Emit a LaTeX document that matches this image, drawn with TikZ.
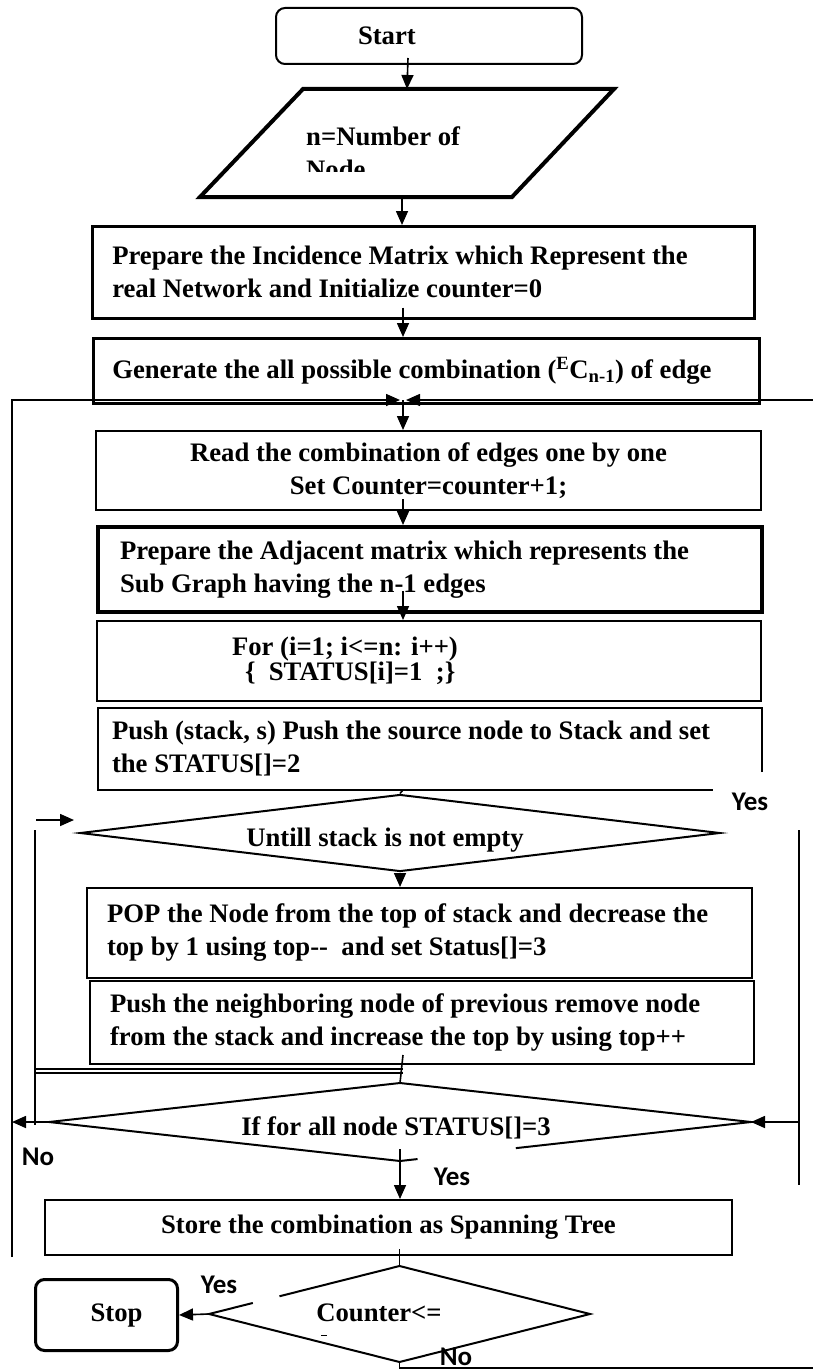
\documentclass[tikz,border=0pt]{standalone}
\usepackage{fontspec}
\setmainfont{Liberation Serif}
\newfontfamily\lblfamily{Carlito}
\usetikzlibrary{arrows.meta,shapes.geometric,calc}
\newcommand\boxfont{\fontsize{26.7}{33}\selectfont\bfseries}
\newcommand\lblfont{\lblfamily\fontsize{27}{32}\selectfont\bfseries}

\begin{document}
\begin{tikzpicture}[
  x=1pt, y=-1pt,
  blk/.style={draw, line width=2pt, anchor=north west, inner ysep=0pt, align=flush left, font=\boxfont},
  term/.style={blk, rounded corners=9pt},
  dec/.style={diamond, inner sep=0pt, line width=2pt},
  rim/.style={line width=2pt},
  txt/.style={inner sep=0pt, font=\boxfont},
  lbl/.style={inner sep=0pt, font=\lblfont},
  ln/.style={line width=1.6pt},
  arr/.style={ln, -{Triangle[length=14pt,width=12pt]}}
]
\useasboundingbox (0,0) rectangle (813,1370);
\coordinate (cx) at (403,0);

%============ TOP ============
\node[term, minimum width=306pt, minimum height=56pt, text width=142pt, inner xsep=82pt] (sta) at (275,7) {Start};
% input
\draw[line width=4pt, line join=miter] (303,89) -- (614,89) -- (512,197) -- (200,197) -- cycle;
\coordinate (inptop) at (407,89);
\coordinate (inpbot) at (402,197);
\begin{scope}
  \clip (300,100) rectangle (470,171);
  \node[txt, anchor=west, align=flush left] (inp) at (306,153) {n=Number of\\Node};
\end{scope}
\node[blk, line width=2.5pt, minimum width=662pt, minimum height=92pt, text width=622pt, inner xsep=20pt] (inc) at (91,225)
  {Prepare the Incidence Matrix which Represent the\\real Network and Initialize counter=0};
\node[blk, line width=2.5pt, minimum width=666pt, minimum height=65pt, text width=628pt, inner xsep=19pt] (gen) at (92,337)
  {Generate the all possible combination (\textsuperscript{E}C\textsubscript{n-1}) of edge};

%============ LOOP BODY ============
\node[blk, align=flush center, minimum width=665pt, minimum height=79pt, text width=625pt, inner xsep=20pt] (rd) at (95,430)
  {Read the combination of edges one by one\\Set Counter=counter+1;};
\node[blk, line width=4pt, minimum width=664pt, minimum height=85pt, text width=620pt, inner xsep=22pt] (adj) at (96,525)
  {Prepare the Adjacent matrix which represents the\\Sub Graph having the n-1 edges};
\node[blk, minimum width=664pt, minimum height=80pt, text width=394pt, inner xsep=135pt] (for) at (96,620)
  {For (i=1; i<=n: i++)\\[-8pt]\hspace*{13pt}\{ \ STATUS[i]=1 \ ;\}};
\node[blk, draw=none, minimum width=662pt, minimum height=80pt, text width=636pt, inner xsep=13pt] (psh) at (98,708)
  {Push (stack, s) Push the source node to Stack and set\\the STATUS[]=2};
\draw[rim] ([yshift=18pt]psh.south east) -- (psh.north east) -- (psh.north west) -- (psh.south west) -- ([xshift=-49pt]psh.south east);
% until
\node[dec, draw, minimum width=640pt, minimum height=77pt] (unt) at (400,833) {};
\node[txt] (untt) at (385,840) {Untill stack is not empty};
\node[blk, minimum width=665pt, minimum height=90pt, text width=625pt, inner xsep=20pt] (pop) at (86,887)
  {POP the Node from the top of stack and decrease the\\top by 1 using top-{}- \ and set Status[]=3};
\node[blk, minimum width=664pt, minimum height=83pt, text width=624pt, inner xsep=20pt] (nbr) at (89,980)
  {Push the neighboring node of previous remove node\\from the stack and increase the top by using top++};
% check
\node[dec, minimum width=700pt, minimum height=76pt] (ifd) at (400,1122) {};
\draw[rim] ($(ifd.east)!0.67!(ifd.south)$) -- (ifd.east) -- (ifd.north) -- (ifd.west) -- (ifd.south) -- ($(ifd.south)!0.05!(ifd.east)$);
\node[txt] (ifdt) at (396,1128) {If for all node STATUS[]=3};

%============ BOTTOM ============
\node[blk, align=flush center, minimum width=687pt, minimum height=55pt, text width=647pt, inner xsep=20pt] (sto) at (44,1199)
  {Store the combination as Spanning Tree};
\node[dec, minimum width=379pt, minimum height=94pt] (cnt) at (399.5,1314) {};
\draw[rim] ($(cnt.north)!0.63!(cnt.west)$) -- (cnt.north) -- (cnt.east) -- (cnt.south) -- (cnt.west) -- ($(cnt.west)!0.23!(cnt.north)$);
\node[txt] (cntt) at (379,1313) {Counter<=};
\draw[line width=1pt] (321,1335) -- (327,1335);
\node[term, line width=3pt, align=flush center, minimum width=142pt, minimum height=71pt, text width=122pt, inner xsep=10pt] (stp) at (34,1278)
  {\hspace*{20pt}Stop};

% labels
\node[lbl] (ys1) at (750,802) {Yes};
\node[lbl] (no1) at (38,1157) {No};
\node[lbl] (ys2) at (452,1177) {Yes};
\node[lbl] (ys3) at (219,1285) {Yes};
\node[lbl] (no2) at (456,1357) {No};

%============ CONNECTORS ============
\draw[arr] ([xshift=-21pt,yshift=7pt]sta.south) -- (inptop);
\draw[arr] (inpbot) -- (inc.north -| inpbot);
\draw[arr] ([yshift=12pt]inc.south -| cx) -- (gen.north -| cx);
% loop join
\coordinate (jl) at (400,400);
\coordinate (jr) at (406,400);
\coordinate (lbot) at (12,1257);
\coordinate (redge) at (813,400);
\draw[arr] (lbot) |- (jl);
\draw[arr] (redge) -- (jr);
\draw[arr] (cx |- jl) -- (rd.north -| cx);
\draw[arr] ([yshift=12pt]rd.south -| cx) -- (adj.north -| cx);
\draw[arr] ([yshift=23pt]adj.south -| cx) -- (for.north -| cx);
\draw[ln] (psh.south -| cx) -- (unt.north);
\draw[arr] (unt.south) -- (pop.north -| unt.south);
\draw[ln] ([yshift=10pt]nbr.south -| cx) -- (ifd.north);
% inner loop
\coordinate (dl) at (35,1069);
\draw[ln] (dl) -- (dl -| cx);
\draw[ln] ([yshift=-4pt]dl) -- ([yshift=-4pt]dl -| cx);
\coordinate (ilt) at (35,830);
\coordinate (ilb) at (35,1125);
\draw[ln] (ilt) -- (ilb);
\coordinate (ua) at (36,820);
\coordinate (ub) at (74,820);
\draw[arr] (ua) -- (ub);
\draw[arr] (ifd.west) -- (ifd.west -| lbot);
% right side
\coordinate (rvt) at (799,830);
\coordinate (rvb) at (799,1185);
\draw[ln] (rvt) -- (rvb);
\draw[arr] (rvt |- ifd.east) -- (ifd.east);
\draw[arr] ([yshift=12pt]ifd.south) -- (sto.north -| ifd.south);
\draw[ln] ([yshift=7pt]sto.south -| cnt.north) -- (cnt.north);
\draw[arr] (cnt.west) -- (stp.east);
\coordinate (bedge) at (813,1368);
\draw[ln] (cnt.south) |- (bedge);
\end{tikzpicture}
\end{document}
